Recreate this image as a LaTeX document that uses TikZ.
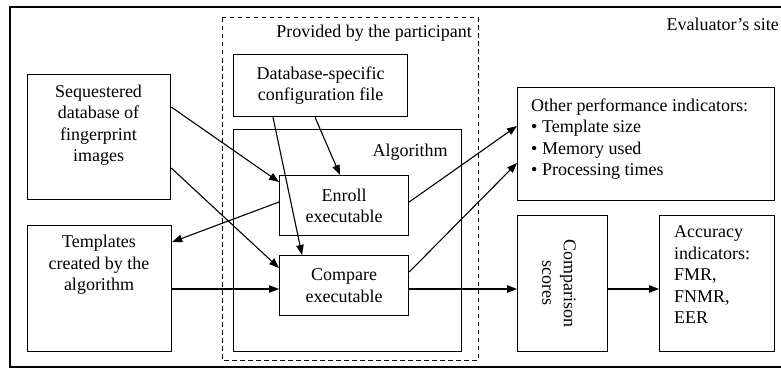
\documentclass[tikz,border=0pt]{standalone}
\usepackage{fontspec}
\setmainfont{Liberation Serif}
\usetikzlibrary{arrows.meta}
\begin{document}
\begin{tikzpicture}[x=1pt,y=-1pt,
  every node/.style={font=\fontsize{18}{21.5}\selectfont},
  frame/.style={draw, line width=1.2pt, inner sep=0pt, anchor=north west},
  txt/.style={inner sep=0pt, align=center},
  flow/.style={line width=1.1pt, -{Triangle[length=10pt,width=7.5pt]}}]
\useasboundingbox (0,0) rectangle (781,369);
% evaluator's site and participant's part
\draw[line width=1.2pt] (10,7) rectangle (800,367);
\draw[line width=1pt, dash pattern=on 4.5pt off 3.5pt] (222,18) rectangle (478,360);
\node[txt, anchor=east] (site) at (779,24) {Evaluator’s site};
\node[txt, anchor=east] (prov) at (472,33) {Provided by the participant};
% boxes
\node[frame, minimum width=143pt, minimum height=125pt] (seq) at (27,74) {};
\node[frame, minimum width=144pt, minimum height=126pt] (tmpl) at (27,225) {};
\node[frame, minimum width=174pt, minimum height=62pt, align=center] (cfg) at (233,54) {Database-specific\\configuration file};
\node[frame, minimum width=228pt, minimum height=222pt] (alg) at (233,129) {};
\node[frame, minimum width=129pt, minimum height=60pt, align=center] (enroll) at (279,175) {Enroll\\executable};
\node[frame, minimum width=129pt, minimum height=60pt, align=center] (compare) at (279,255) {Compare\\executable};
\node[frame, minimum width=257pt, minimum height=113pt] (perf) at (517,87) {};
\node[frame, minimum width=90pt, minimum height=136pt] (scores) at (517,215) {};
\node[frame, minimum width=115pt, minimum height=136pt] (acc) at (659,215) {};
% texts
\node[txt] (algt) at (410,152) {Algorithm};
\node[txt] (seqt) at (98.5,125) {Sequestered\\database of\\fingerprint\\images};
\node[txt] (tmplt) at (99,265) {Templates\\created by the\\algorithm};
\node[txt, anchor=west, align=left] (perft) at (531,139) {Other performance indicators:\\\textbullet{} Template size\\\textbullet{} Memory used\\\textbullet{} Processing times};
\node[txt, rotate=-90] (scorest) at (559,283) {Comparison\\scores};
\node[txt, anchor=west, align=left] (acct) at (674,275) {Accuracy\\indicators:\\FMR,\\FNMR,\\EER};
% connectors
\draw[flow] ([yshift=-33pt]seq.north east) -- ([yshift=-7pt]enroll.north west);
\draw[flow] ([yshift=-94pt]seq.north east) -- ([yshift=-13pt]compare.north west);
\draw[flow] ([xshift=82pt]cfg.south west) -- ([xshift=61pt]enroll.north west);
\draw[flow] ([xshift=40pt]cfg.south west) -- ([xshift=23pt]compare.north west);
\draw[flow] ([yshift=-27pt]enroll.north west) -- ([yshift=-17pt]tmpl.north east);
\draw[flow] ([yshift=-64pt]tmpl.north east) -- ([yshift=-34pt]compare.north west);
\draw[flow] ([yshift=-27pt]enroll.north east) -- ([yshift=-39pt]perf.north west);
\draw[flow] ([yshift=-17pt]compare.north east) -- ([yshift=-76pt]perf.north west);
\draw[flow] ([yshift=-34pt]compare.north east) -- ([yshift=-74pt]scores.north west);
\draw[flow] ([yshift=-74pt]scores.north east) -- ([yshift=-74pt]acc.north west);
\end{tikzpicture}
\end{document}
